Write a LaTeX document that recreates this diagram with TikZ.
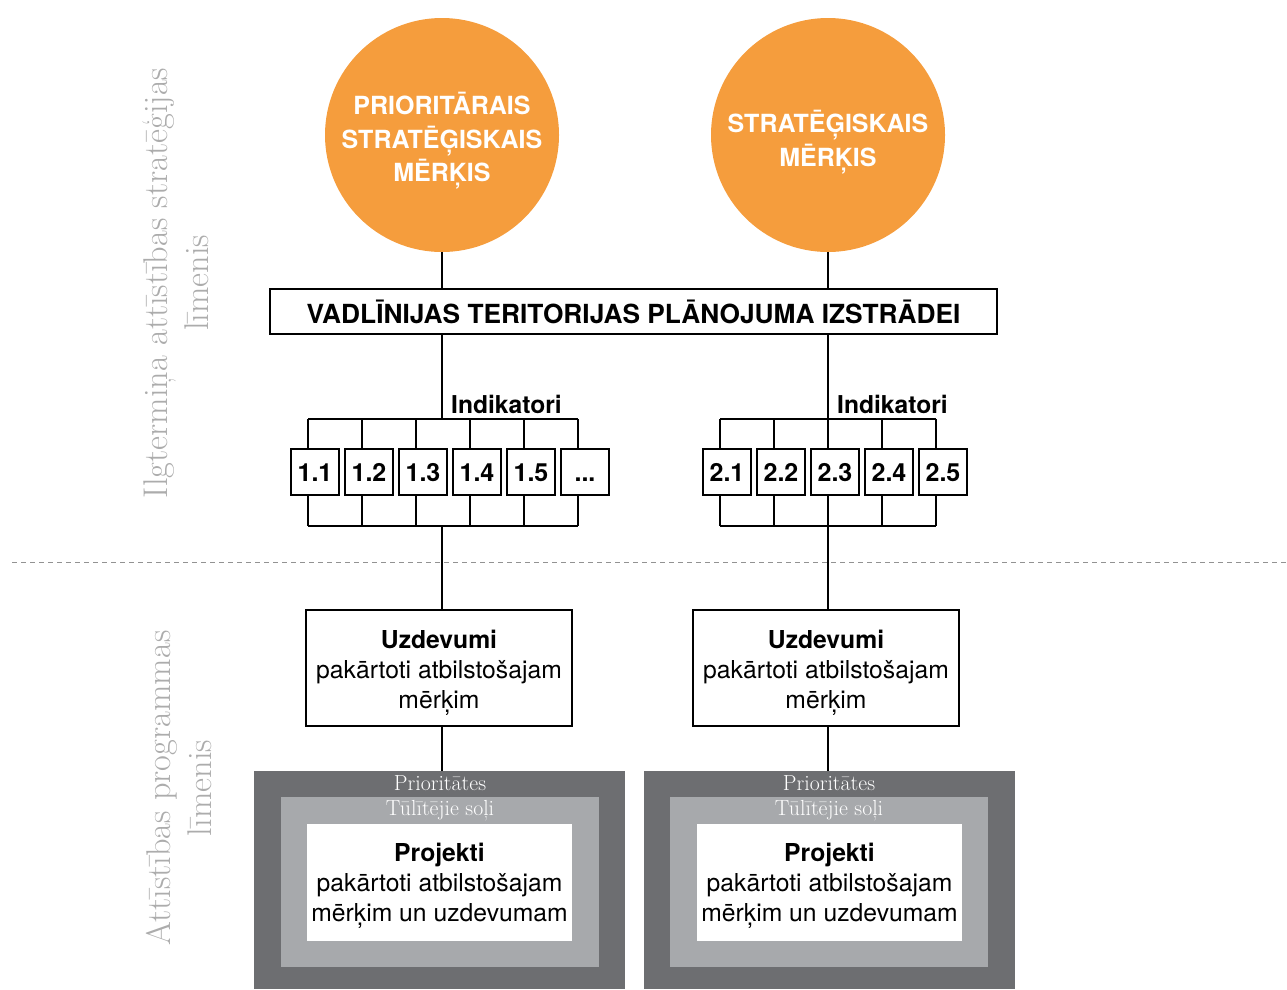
\documentclass[tikz,border=0pt]{standalone}
\usepackage{fontspec}
\setsansfont{TeX Gyre Heros}
\usepackage{tikz}
\definecolor{goal}{RGB}{245,157,61}
\definecolor{darkgr}{RGB}{109,110,113}
\definecolor{midgr}{RGB}{167,169,172}
\definecolor{sidegr}{RGB}{172,172,172}
\tikzset{
  goalc/.style={circle, fill=goal, minimum size=234pt, inner sep=0pt},
  goalt/.style={text=white, inner sep=0pt, align=center, font=\sffamily\bfseries\fontsize{25}{33.5}\selectfont},
  box/.style={draw, line width=1.7pt, fill=white, inner sep=0pt, align=center},
  ind/.style={box, minimum width=48pt, minimum height=46pt, text height=18pt, text depth=0pt,
    font=\sffamily\bfseries\fontsize{25}{28}\selectfont},
  lbl/.style={inner sep=0pt, font=\sffamily\bfseries\fontsize{24.6}{28}\selectfont},
  txt/.style={inner sep=0pt, align=center, font=\sffamily\fontsize{24.7}{30}\selectfont},
  link/.style={line width=1.7pt},
  side/.style={rotate=90, text=sidegr, align=center, inner sep=0pt, font=\fontsize{34.3}{41}\selectfont},
  prio/.style={fill=darkgr, minimum width=371pt, minimum height=218pt, inner sep=0pt},
  tul/.style={fill=midgr, minimum width=318pt, minimum height=170pt, inner sep=0pt},
  proj/.style={fill=white, minimum width=265pt, minimum height=117pt, inner sep=0pt},
  ser/.style={text=white, inner sep=0pt, font=\fontsize{21.8}{24}\selectfont}
}
\begin{document}
\begin{tikzpicture}[x=1pt,y=-1pt]
\useasboundingbox (0,0) rectangle (1287,989);

\node[side] (lvl1) at (176,283) {Ilgtermiņa attīstības stratēģijas\\līmenis};
\node[side] (lvl2) at (179,788) {Attīstības programmas\\līmenis};
\coordinate (dl) at (12,562);
\coordinate (dr) at (1287,562);
\draw[sidegr!85!black, line width=1pt, dash pattern=on 5pt off 4pt] (dl) -- (dr);

\node[goalc] (pc1) at (442,135) {};
\node[goalc] (pc2) at (828,135) {};
\node[goalt] (gt1) at ([yshift=-6pt]pc1.center) {PRIORITĀRAIS\\STRATĒĢISKAIS\\MĒRĶIS};
\node[goalt] (gt2) at ([yshift=-7pt]pc2.center) {STRATĒĢISKAIS\\MĒRĶIS};
\node[box, minimum width=727pt, minimum height=45pt, font=\sffamily\bfseries\fontsize{26.3}{28}\selectfont] (vad) at (633.5,311.5) {VADLĪNIJAS TERITORIJAS PLĀNOJUMA IZSTRĀDEI};
\draw[link] (pc1.south) -- (pc1.south |- vad.north);
\draw[link] (pc2.south) -- (pc2.south |- vad.north);

\coordinate (rtop) at (0,419);
\coordinate (rbot) at (0,526);

\foreach \k in {1,...,5}
  \node[ind] (a\k) at ({261+54*\k},472) {1.\k};
\node[ind] (a6) at (585,472) {...};
\foreach \k in {1,...,5}
  \node[ind] (b\k) at ({673+54*\k},472) {2.\k};

\foreach \k in {1,...,6} {
  \draw[link] ([xshift=-7pt]a\k.north) -- ([xshift=-7pt]a\k.north |- rtop);
  \draw[link] ([xshift=-7pt]a\k.south) -- ([xshift=-7pt]a\k.south |- rbot);
}
\foreach \k in {1,...,5} {
  \draw[link] ([xshift=-7pt]b\k.north) -- ([xshift=-7pt]b\k.north |- rtop);
  \draw[link] ([xshift=-7pt]b\k.south) -- ([xshift=-7pt]b\k.south |- rbot);
}
\draw[link] ([xshift=-7pt]a1.north |- rtop) -- ([xshift=-7pt]a6.north |- rtop);
\draw[link] ([xshift=-7pt]a1.south |- rbot) -- ([xshift=-7pt]a6.south |- rbot);
\draw[link] ([xshift=-7pt]b1.north |- rtop) -- ([xshift=-7pt]b5.north |- rtop);
\draw[link] ([xshift=-7pt]b1.south |- rbot) -- ([xshift=-7pt]b5.south |- rbot);

\draw[link] (vad.south -| pc1) -- (pc1 |- rtop);
\draw[link] (vad.south -| pc2) -- (pc2 |- rtop);
\node[lbl, anchor=west] (ik1) at (451,404) {Indikatori};
\node[lbl, anchor=west] (ik2) at (837,404) {Indikatori};

\node[box, minimum width=266pt, minimum height=116pt] (uz1) at (439,668) {};
\node[box, minimum width=266pt, minimum height=116pt] (uz2) at (826,668) {};
\node[txt] (ut1) at (439,673) {\textbf{Uzdevumi}\\pakārtoti atbilstošajam\\mērķim};
\node[txt] (ut2) at (826,673) {\textbf{Uzdevumi}\\pakārtoti atbilstošajam\\mērķim};
\draw[link] (pc1 |- rbot) -- (uz1.north -| pc1);
\draw[link] (pc2 |- rbot) -- (uz2.north -| pc2);

\node[prio] (pr1) at (439.5,880) {};
\node[tul] (tu1) at (440,882) {};
\node[proj] (pj1) at (439.5,882.5) {};
\node[txt] (pt1) at (439.5,885.5) {\textbf{Projekti}\\pakārtoti atbilstošajam\\mērķim un uzdevumam};
\node[ser] (sp1) at (440,783) {Prioritātes};
\node[ser] (st1) at (440,811) {Tūlītējie soļi};

\node[prio] (pr2) at (829.5,880) {};
\node[tul] (tu2) at (829,882) {};
\node[proj] (pj2) at (829.5,882.5) {};
\node[txt] (pt2) at (829.5,885.5) {\textbf{Projekti}\\pakārtoti atbilstošajam\\mērķim un uzdevumam};
\node[ser] (sp2) at (829,783) {Prioritātes};
\node[ser] (st2) at (829,811) {Tūlītējie soļi};

\draw[link] (uz1.south -| pc1) -- (pr1.north -| pc1);
\draw[link] (uz2.south -| pc2) -- (pr2.north -| pc2);
\end{tikzpicture}
\end{document}
